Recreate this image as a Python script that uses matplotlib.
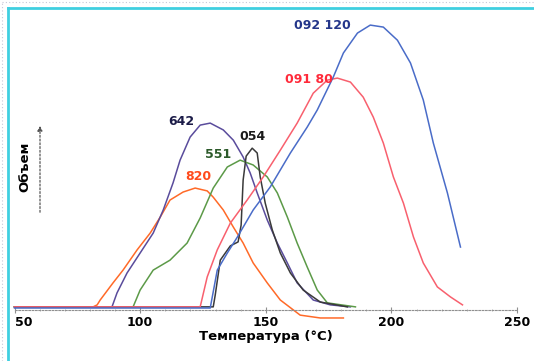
import matplotlib
matplotlib.use("Agg")
import matplotlib.pyplot as plt
from matplotlib.lines import Line2D

# =========================
# DATA (volume in % of the highest peak)
# =========================
t_820 = [50, 81.3, 82.9, 84.1, 89.2, 93.2, 98.8, 104.0, 108.0, 111.9, 117.1, 121.9,
         126.7, 129.1, 133.1, 137.1, 141.0, 145.0, 150.6, 155.8, 163.7, 171.7, 180.9]
v_820 = [1.1, 1.1, 1.8, 3.5, 9.5, 14.0, 21.1, 27.0, 32.6, 38.6, 41.4, 42.8,
         41.8, 39.6, 35.1, 29.1, 23.5, 16.5, 9.5, 3.5, -1.8, -2.8, -2.8]

t_642 = [50, 88.8, 90.8, 94.8, 100.0, 105.2, 109.2, 113.1, 115.9, 119.9, 123.9, 127.9,
         133.1, 137.1, 141.0, 143.8, 146.6, 150.6, 154.6, 158.6, 162.5, 168.9, 175.7, 183.7]
v_642 = [1.1, 1.1, 6.0, 13.0, 20.0, 27.0, 35.1, 44.6, 52.6, 60.7, 64.9, 65.6,
         63.2, 59.6, 53.7, 48.1, 41.1, 31.6, 23.5, 16.5, 9.5, 3.5, 1.8, 1.1]

t_551 = [50, 97.2, 100.0, 105.2, 111.9, 118.7, 123.9, 129.1, 134.7, 139.8, 145.0,
         150.6, 154.6, 158.6, 162.5, 166.5, 170.5, 174.5, 185.7]
v_551 = [1.1, 1.1, 7.0, 14.0, 17.5, 23.5, 32.3, 42.8, 50.2, 52.6, 50.9,
         46.7, 41.1, 32.6, 23.5, 15.1, 7.0, 2.5, 1.1]

t_054 = [50, 129.1, 129.9, 131.9, 135.9, 139.0, 140.2, 141.0, 142.2, 144.6, 146.6,
         147.8, 149.8, 152.6, 155.8, 159.8, 164.9, 171.7, 182.5]
v_054 = [1.1, 1.1, 5.3, 17.5, 22.5, 23.9, 29.8, 45.6, 54.0, 56.8, 55.1,
         46.7, 37.5, 28.1, 20.0, 13.0, 7.0, 2.8, 1.1]

t_091 = [50, 123.9, 126.7, 130.7, 135.9, 142.6, 149.0, 155.8, 162.5, 168.9, 174.5, 178.5,
         183.7, 188.8, 192.8, 196.8, 200.8, 204.8, 208.8, 212.7, 218.3, 223.5, 228.3]
v_091 = [1.1, 1.1, 11.6, 21.1, 30.5, 38.6, 46.7, 56.1, 65.6, 76.1, 80.7, 81.4,
         80.0, 74.7, 67.7, 58.6, 46.7, 37.5, 25.6, 16.5, 8.1, 4.6, 1.8]

t_092 = [50, 127.9, 130.7, 134.7, 138.7, 145.0, 151.8, 159.8, 166.5, 170.5, 176.9,
         180.9, 186.5, 191.6, 196.8, 202.4, 207.6, 212.7, 216.7, 222.3, 227.5]
v_092 = [0.7, 0.7, 14.0, 20.0, 25.6, 35.1, 43.2, 55.1, 64.2, 70.2, 81.8,
         90.2, 97.2, 100.0, 99.3, 94.7, 86.7, 73.7, 58.6, 41.1, 22.1]

# curve label texts and where they sit
labels = ["092 120", "091 80", "642", "054", "551", "820"]
label_t = [172.5, 167.3, 116.3, 144.6, 131.1, 123.1]
label_v = [100.0, 81.0, 66.3, 61.0, 54.7, 46.7]

x_ticks = [50, 100, 150, 200, 250]

# =========================
# STYLE
# =========================
curves = [
    (t_820, v_820, "#ff6a28"),
    (t_642, v_642, "#5a4c9c"),
    (t_551, v_551, "#5c9a48"),
    (t_054, v_054, "#3a3a3a"),
    (t_091, v_091, "#f8606e"),
    (t_092, v_092, "#4a6cc8"),
]
label_colors = ["#24368a", "#ff2a3a", "#1c1c48", "#1a1a1a", "#2c5a2a", "#ff4a1c"]

W, H = 534, 361
fig = plt.figure(figsize=(W / 100, H / 100), dpi=100)
ax = fig.add_axes([14.5 / W, 1 - 310 / H, (517 - 14.5) / W, 302 / H])

for t, v, c in curves:
    ax.plot(t, v, color=c, lw=1.1, clip_on=False)

for txt, x, y, c in zip(labels, label_t, label_v, label_colors):
    ax.text(x, y, txt, color=c, fontsize=9, fontweight="bold",
            ha="center", va="center")

ax.set_xlim(50, 250)
ax.set_ylim(0, 106)
ax.set_xticks(x_ticks)
ax.set_xticks(range(50, 251, 10), minor=True)
ax.set_xticklabels([str(v) for v in x_ticks], fontsize=9, fontweight="bold")
# first label sits to the right of its tick, as in the original
ax.get_xticklabels()[0].set_horizontalalignment("left")
ax.set_yticks([])
for s in ["top", "right", "left"]:
    ax.spines[s].set_visible(False)
ax.spines["bottom"].set_linestyle((0, (1.5, 1.5)))
ax.spines["bottom"].set_color("#909090")
ax.spines["bottom"].set_linewidth(0.8)
ax.tick_params(axis="x", which="major", direction="inout", length=4,
               color="#909090", pad=2)
ax.tick_params(axis="x", which="minor", direction="inout", length=2,
               color="#b0b0b0")
ax.set_xlabel("Температура (°C)", fontsize=9.5, fontweight="bold", labelpad=1)

# y label with an upward arrow
fig.text(25 / W, 1 - 167 / H, "Объем", rotation=90, fontsize=9.5,
         fontweight="bold", ha="center", va="center")
ax.annotate("", xy=(40, H - 123), xytext=(40, H - 215),
            xycoords="figure pixels", textcoords="figure pixels",
            arrowprops=dict(arrowstyle="-|>", color="#555555", lw=0.9,
                            linestyle=(0, (1.5, 1.5)), mutation_scale=7))

# frame around the picture
fig.add_artist(Line2D([8 / W, 8 / W], [0, 1 - 8 / H], color="#40cfe0", lw=2,
                      transform=fig.transFigure))
fig.add_artist(Line2D([8 / W, 1], [1 - 8 / H, 1 - 8 / H], color="#40cfe0", lw=2,
                      transform=fig.transFigure))
fig.add_artist(Line2D([2 / W, 2 / W], [0, 1 - 2 / H], color="#c8c8d8", lw=0.8,
                      ls=(0, (1, 2)), transform=fig.transFigure))
fig.add_artist(Line2D([2 / W, 1], [1 - 2 / H, 1 - 2 / H], color="#c8c8d8", lw=0.8,
                      ls=(0, (1, 2)), transform=fig.transFigure))

fig.savefig("out.png", dpi=100)
